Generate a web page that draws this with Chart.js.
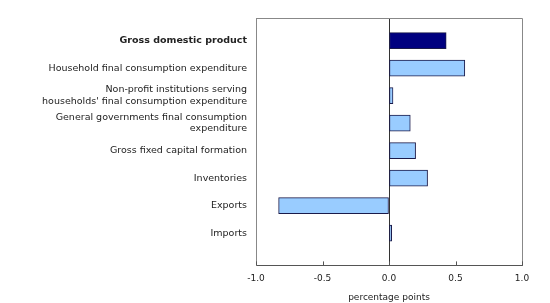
<!DOCTYPE html>
<html>
<head>
<meta charset="utf-8">
<script src="https://cdn.jsdelivr.net/npm/chart.js@4"></script>
<style>
  body { margin: 0; background: #fff; }
  #wrap { width: 550px; height: 303px; }
</style>
</head>
<body>
<div id="wrap"><canvas id="contribChart"></canvas></div>
<script>
// categories, top to bottom
let categories = [
    'Gross domestic product',
    'Household final consumption expenditure',
    ['Non-profit institutions serving', "households' final consumption expenditure"],
    ['General governments final consumption', 'expenditure'],
    'Gross fixed capital formation',
    'Inventories',
    'Exports',
    'Imports'
];
// contributions to percent change, percentage points
let contributions = [0.43, 0.57, 0.03, 0.16, 0.20, 0.29, -0.83, 0.02];
let xTicks = [-1.0, -0.5, 0.0, 0.5, 1.0];

let points = [];
let fills = [];
for(let i = 0; i<categories.length; i+=1){
    points.push({x: contributions[i], y: i});
    fills.push(i === 0 ? '#000080' : '#99CCFF');
}

// top and right edge of the plot frame, plus inward tick marks on the x axis
const framePlugin = {
    id: 'frame',
    afterDraw(chart){
        const {ctx, chartArea} = chart;
        const xScale = chart.scales.x;
        ctx.save();
        ctx.strokeStyle = '#888';
        ctx.lineWidth = 1;
        ctx.beginPath();
        ctx.moveTo(chartArea.left, chartArea.top + 0.5);
        ctx.lineTo(chartArea.right + 0.5, chartArea.top + 0.5);
        ctx.lineTo(chartArea.right + 0.5, chartArea.bottom);
        ctx.stroke();
        ctx.strokeStyle = '#555';
        ctx.beginPath();
        xTicks.forEach(v => {
            const px = Math.round(xScale.getPixelForValue(v)) + 0.5;
            ctx.moveTo(px, chartArea.bottom - 4);
            ctx.lineTo(px, chartArea.bottom);
        });
        ctx.stroke();
        ctx.restore();
    }
};

var ctx = document.getElementById('contribChart').getContext('2d');
window.contribChart = new Chart(ctx, {
    type: 'bar',
    data: {
        datasets: [{
            data: points,
            backgroundColor: fills,
            borderColor: '#1a1a4a',
            borderWidth: 1,
            borderSkipped: false,
            barThickness: 16
        }]
    },
    options: {
        indexAxis: 'y',
        responsive: true,
        maintainAspectRatio: false,
        animation: false,
        layout: { padding: { top: 18, right: 28, left: 0, bottom: 0 } },
        plugins: {
            legend: { display: false },
            tooltip: { enabled: false }
        },
        scales: {
            x: {
                type: 'linear',
                min: -1,
                max: 1,
                afterBuildTicks: (scale) => { scale.ticks = xTicks.map(v => ({value: v})); },
                ticks: {
                    callback: (v) => v.toFixed(1),
                    color: '#222',
                    font: { family: 'DejaVu Sans', size: 9 },
                    padding: 8,
                    maxRotation: 0
                },
                grid: {
                    color: (c) => (c.tick && c.tick.value === 0) ? '#333' : 'rgba(0,0,0,0)',
                    drawTicks: false
                },
                border: { color: '#555', width: 1 },
                title: {
                    display: true,
                    text: 'percentage points',
                    color: '#222',
                    font: { family: 'DejaVu Sans', size: 9 },
                    padding: { top: 0, bottom: 0 }
                }
            },
            y: {
                type: 'linear',
                reverse: true,
                offset: false,
                min: -0.82,
                max: 8.17,
                afterBuildTicks: (scale) => { scale.ticks = categories.map((c, i) => ({value: i})); },
                afterFit: (scale) => { scale.width = 256; },
                ticks: {
                    callback: (v) => categories[v],
                    color: '#222',
                    padding: 9,
                    font: (c) => ({
                        family: 'DejaVu Sans',
                        size: 9.5,
                        weight: c.index === 0 ? 'bold' : 'normal'
                    })
                },
                grid: { display: false, drawTicks: false },
                border: { color: '#888', width: 1 }
            }
        }
    },
    plugins: [framePlugin]
});
</script>
</body>
</html>
